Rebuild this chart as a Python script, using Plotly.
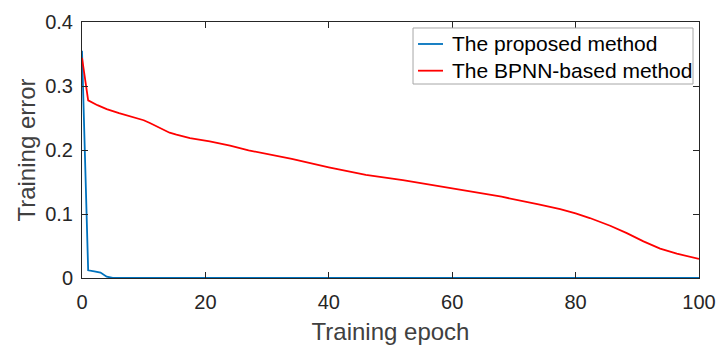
import plotly.graph_objects as go

# Data
proposed_epoch = [0, 1, 2, 3, 4, 5, 6, 10, 20, 40, 60, 80, 100]
proposed_error = [0.355, 0.012, 0.0105, 0.0085, 0.002, 0.0003, 0.0, 0.0, 0.0, 0.0, 0.0, 0.0, 0.0]

bpnn_epoch = [0, 1, 2.5, 4, 6, 8, 10, 11, 12, 13.2, 14.2, 15.3, 16.5, 17.5, 20.7, 24, 27, 30, 34,
              40, 46, 52, 60, 68, 74, 77.5, 80, 82.3, 85.6, 88.3, 91, 93.7, 96.4, 100]
bpnn_error = [0.344, 0.2775, 0.270, 0.264, 0.2575, 0.252, 0.2465, 0.2422, 0.2375, 0.2317, 0.2270,
              0.2240, 0.2210, 0.2186, 0.2134, 0.2067, 0.1994, 0.194, 0.186,
              0.173, 0.161, 0.153, 0.140, 0.127, 0.115, 0.1078, 0.101, 0.0937, 0.0817, 0.0702,
              0.0572, 0.0458, 0.038, 0.0297]

series_names = ["The proposed method", "The BPNN-based method"]
series_colors = ["#0072BD", "#FF0000"]

x_ticks = [0, 20, 40, 60, 80, 100]
y_ticks = [0, 0.1, 0.2, 0.3, 0.4]
y_tick_labels = ["0", "0.1", "0.2", "0.3", "0.4"]

FONT = "Liberation Sans, Arial, sans-serif"
AX = "#262626"

fig = go.Figure()
fig.add_trace(go.Scatter(x=proposed_epoch, y=proposed_error, mode="lines",
                         name=series_names[0],
                         line=dict(color=series_colors[0], width=1.8)))
fig.add_trace(go.Scatter(x=bpnn_epoch, y=bpnn_error, mode="lines",
                         name=series_names[1],
                         line=dict(color=series_colors[1], width=1.8)))

axis_common = dict(showline=True, linecolor=AX, linewidth=1, mirror="ticks",
                   ticks="inside", ticklen=6, tickcolor=AX, tickwidth=1,
                   showgrid=False, zeroline=False, automargin=False,
                   tickfont=dict(family=FONT, size=20, color=AX))

fig.update_xaxes(range=[0, 100], tickvals=x_ticks, ticklabelstandoff=6,
                 title=dict(text="Training epoch", font=dict(family=FONT, size=24, color="#404040"),
                            standoff=13),
                 **axis_common)
fig.update_yaxes(range=[0, 0.4], tickvals=y_ticks, ticktext=y_tick_labels, ticklabelstandoff=4,
                 title=dict(text="Training error", font=dict(family=FONT, size=24, color="#404040"),
                            standoff=2),
                 **axis_common)

# Legend drawn in the plot-area (paper) coordinates, MATLAB style
box = dict(x0=0.5365, x1=0.9903, y0=0.7578, y1=0.9766)
rows_y = [0.9141, 0.8098]
sample_x = (0.5446, 0.5851)
text_x = 0.5959

shapes = [dict(type="rect", xref="paper", yref="paper", layer="above",
               line=dict(color="#A6A6A6", width=1), fillcolor="white", **box)]
annotations = []
for name, color, ry in zip(series_names, series_colors, rows_y):
    shapes.append(dict(type="line", xref="paper", yref="paper", layer="above",
                       x0=sample_x[0], x1=sample_x[1], y0=ry, y1=ry,
                       line=dict(color=color, width=1.8)))
    annotations.append(dict(text=name, xref="paper", yref="paper", x=text_x, y=ry,
                            xanchor="left", yanchor="middle", showarrow=False,
                            font=dict(family=FONT, size=21, color="#000000")))

fig.update_layout(
    width=720, height=345,
    margin=dict(l=82, r=21, t=22, b=67),
    plot_bgcolor="white", paper_bgcolor="white",
    font=dict(family=FONT, color=AX),
    showlegend=False,
    shapes=shapes,
    annotations=annotations,
)

fig.write_html("out.html")
